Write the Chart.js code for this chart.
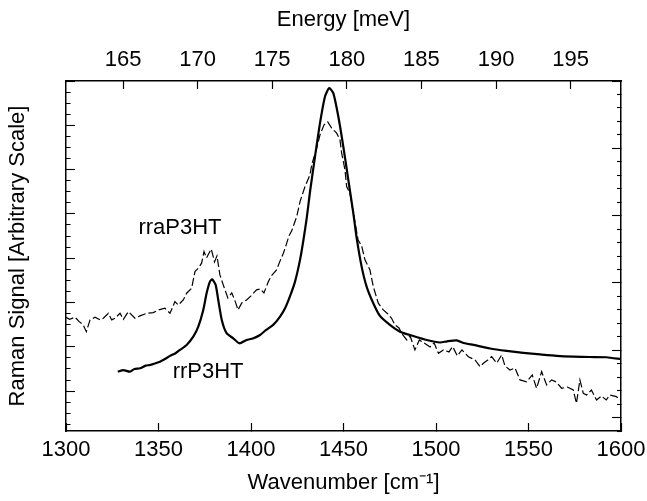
<!DOCTYPE html>
<html>
<head>
<meta charset="utf-8">
<script src="https://cdn.jsdelivr.net/npm/chart.js@4.4.1/dist/chart.umd.min.js"></script>
<style>
  html, body { margin: 0; padding: 0; background: #fff; }
  canvas { display: block; }
</style>
</head>
<body>
<canvas id="canvas" width="647" height="501"></canvas>
<script>
// regio-regular P3HT (solid line)
const wavenumber_rr = [1328, 1331, 1334.6, 1337, 1340, 1343, 1345.4, 1348, 1350.8, 1353, 1356.2, 1359, 1361.6, 1365.2, 1368.8, 1371.5, 1374.2, 1376, 1377.8, 1379, 1380.9, 1382.3, 1384.2, 1386.8, 1390.4, 1393.7, 1397.6, 1401, 1404.9, 1408, 1412, 1415.7, 1418.4, 1421, 1423.8, 1426.5, 1428.3, 1430.1, 1431.9, 1434.6, 1437.3, 1440, 1442.3, 1444.5, 1447.2, 1449.9, 1452.6, 1455.3, 1457.1, 1459.8, 1462.5, 1466.1, 1469.7, 1475.1, 1480.5, 1487.7, 1495, 1502.2, 1506, 1511.2, 1515, 1520.2, 1529.2, 1538.2, 1547.2, 1556.2, 1565.2, 1574.2, 1583.2, 1592.2, 1600];
const signal_rr = [1.76, 1.9, 1.76, 2.0, 2.06, 2.3, 2.36, 2.5, 2.66, 2.85, 3.18, 3.4, 3.72, 4.17, 4.92, 5.82, 7.33, 8.84, 9.89, 10.1, 9.59, 8.23, 6.43, 5.23, 4.77, 4.32, 4.62, 4.75, 5.07, 5.5, 5.98, 6.73, 7.48, 8.53, 9.89, 11.85, 13.6, 15.6, 18.0, 21.18, 24.2, 26.6, 27.36, 26.9, 24.79, 22.08, 19.07, 16.07, 13.83, 11.24, 9.44, 7.94, 6.79, 5.98, 5.37, 4.98, 4.62, 4.39, 4.5, 4.58, 4.35, 4.17, 3.85, 3.63, 3.45, 3.31, 3.18, 3.11, 3.08, 3.06, 2.88];

// regio-random P3HT (dashed line)
const wavenumber_rra = [1300, 1302, 1304.9, 1307, 1309.3, 1311, 1313, 1315.7, 1318.4, 1320.2, 1322.9, 1324.7, 1326.5, 1329.2, 1331, 1333.7, 1337.3, 1340, 1343.6, 1347.2, 1349.9, 1353.5, 1356.2, 1358.9, 1360.7, 1363.4, 1365.2, 1367.9, 1369.7, 1371.5, 1373.3, 1374.6, 1376, 1378.5, 1380.3, 1381.6, 1383.2, 1385, 1387.5, 1389.6, 1391.5, 1393, 1395, 1397.6, 1400, 1403, 1405, 1407, 1409.4, 1411, 1413.8, 1415.5, 1417.5, 1419, 1420.5, 1422, 1424.7, 1426.5, 1429.2, 1431.9, 1432.8, 1435.5, 1437.3, 1439.5, 1441.5, 1443.6, 1446.3, 1448.1, 1449, 1450.8, 1451.7, 1453.5, 1455.5, 1457.9, 1459.8, 1461.6, 1464.3, 1466.1, 1468.8, 1471.5, 1474, 1476, 1477.8, 1480, 1481.4, 1484.2, 1486, 1488.6, 1491, 1493.5, 1496.8, 1499, 1501.3, 1504, 1507, 1509, 1511.5, 1514, 1517.5, 1521.1, 1523.8, 1525.6, 1528, 1530.1, 1532.8, 1535.5, 1537.3, 1540, 1542.7, 1545.4, 1549, 1552, 1554.4, 1557.1, 1559.8, 1562.5, 1565, 1567.9, 1571, 1574.2, 1575.9, 1577.8, 1579.6, 1581.4, 1584, 1586.8, 1589.5, 1592, 1594, 1597.5, 1600];
const signal_rra = [6.67, 6.49, 6.67, 6.3, 5.98, 5.37, 6.43, 6.67, 6.43, 6.58, 7.03, 6.43, 6.58, 7.03, 6.49, 7.18, 6.58, 6.79, 7.03, 7.09, 7.33, 7.48, 7.03, 8.08, 7.78, 8.23, 8.84, 9.29, 10.79, 11.1, 11.55, 12.6, 12.03, 12.84, 11.67, 12.21, 10.49, 9.59, 8.41, 8.87, 8.08, 7.33, 7.96, 8.23, 8.6, 9.14, 9.23, 8.87, 9.89, 10.4, 10.94, 11.67, 12.45, 13.2, 14.0, 14.47, 15.76, 17.11, 18.47, 19.53, 20.43, 21.94, 23.14, 24.04, 24.31, 23.74, 23.29, 22.69, 21.49, 19.98, 18.47, 17.87, 15.91, 13.65, 13.11, 11.85, 10.94, 9.44, 7.94, 7.33, 6.97, 6.58, 5.98, 5.7, 5.23, 4.62, 4.98, 3.72, 4.62, 4.35, 3.99, 4.35, 3.42, 3.72, 3.54, 4.02, 3.18, 3.72, 3.11, 2.81, 2.21, 2.52, 2.81, 3.11, 2.52, 3.27, 2.27, 1.91, 2.09, 1.01, 0.85, 1.46, 0.26, 1.76, 0.56, 1.01, 0.83, 0.26, 0.37, 0.1, -1.1, 1.01, -0.19, -0.35, 0.1, -0.8, -0.44, -0.8, -0.35, -0.5, -0.8];

const wavenumberTicks = [1300, 1350, 1400, 1450, 1500, 1550, 1600];
const energyTicks = [165, 170, 175, 180, 185, 190, 195];
const MEV_PER_CM = 0.123984;

const curveLabels = [
  { text: "rraP3HT", x: 1361.6, y: 14.7 },
  { text: "rrP3HT", x: 1376.8, y: 1.73 },
];

const FONT = { family: "'Liberation Sans', Arial, sans-serif", size: 22 };

function toPoints(xs, ys) {
  return xs.map((x, i) => ({ x: x, y: ys[i] }));
}

const curveLabelPlugin = {
  id: "curveLabels",
  afterDatasetsDraw(chart) {
    const ctx = chart.ctx;
    const xs = chart.scales.x;
    const ys = chart.scales.y;
    ctx.save();
    ctx.font = FONT.size + "px " + FONT.family;
    ctx.fillStyle = "#000";
    ctx.textAlign = "center";
    ctx.textBaseline = "middle";
    curveLabels.forEach((l) => {
      ctx.fillText(l.text, xs.getPixelForValue(l.x), ys.getPixelForValue(l.y));
    });
    ctx.restore();
  },
};

// left axis: long tick every 4th, right axis: long tick every 5th
const leftMajor = (c) => c.tick && Math.round(c.tick.value) % 4 === 0;
const rightMajor = (c) => c.tick && Math.round(c.tick.value) % 5 === 0;

const noPad = (s) => {
  s.paddingLeft = 0;
  s.paddingRight = 0;
};

const chartContainer = document.getElementById("canvas").getContext("2d");
const ramanChart = new Chart(chartContainer, {
  type: "line",
  data: {
    datasets: [
      {
        label: "rrP3HT",
        data: toPoints(wavenumber_rr, signal_rr),
        borderColor: "#000",
        borderWidth: 2.2,
        pointRadius: 0,
        tension: 0.2,
        fill: false,
      },
      {
        label: "rraP3HT",
        data: toPoints(wavenumber_rra, signal_rra),
        borderColor: "#000",
        borderWidth: 1.2,
        borderDash: [8, 3],
        pointRadius: 0,
        tension: 0,
        fill: false,
      },
    ],
  },
  options: {
    responsive: false,
    animation: false,
    layout: { padding: 0 },
    plugins: {
      legend: { display: false },
      tooltip: { enabled: false },
    },
    scales: {
      x: {
        type: "linear",
        position: "bottom",
        min: 1300,
        max: 1600,
        afterBuildTicks: (s) => {
          s.ticks = wavenumberTicks.map((v) => ({ value: v }));
        },
        ticks: {
          font: FONT,
          color: "#000",
          padding: 14,
          maxRotation: 0,
          autoSkip: false,
          callback: (v) => String(v),
        },
        grid: { drawOnChartArea: false, tickLength: -8, tickColor: "#000", tickWidth: 1.2 },
        border: { color: "#000", width: 1.5 },
        title: {
          display: true,
          text: "Wavenumber [cm\u207B\u00B9]",
          font: FONT,
          color: "#000",
          padding: { top: 0, bottom: 5 },
        },
        afterFit: (s) => {
          s.height = 70;
          noPad(s);
        },
      },
      x2: {
        type: "linear",
        position: "top",
        min: 1300 * MEV_PER_CM,
        max: 1600 * MEV_PER_CM,
        afterBuildTicks: (s) => {
          s.ticks = energyTicks.map((v) => ({ value: v }));
        },
        ticks: {
          font: FONT,
          color: "#000",
          padding: 16,
          maxRotation: 0,
          autoSkip: false,
          callback: (v) => String(v),
        },
        grid: { drawOnChartArea: false, tickLength: -8, tickColor: "#000", tickWidth: 1.2 },
        border: { color: "#000", width: 1.5 },
        title: {
          display: true,
          text: "Energy [meV]",
          font: FONT,
          color: "#000",
          padding: { top: 7, bottom: 0 },
        },
        afterFit: (s) => {
          s.height = 81;
          noPad(s);
        },
      },
      y: {
        type: "linear",
        position: "left",
        min: -3.6,
        max: 28,
        ticks: { display: false, stepSize: 1, includeBounds: false },
        grid: {
          drawOnChartArea: false,
          tickLength: -9,
          tickColor: "#000",
          tickWidth: 1.1,
          tickBorderDash: (c) => (leftMajor(c) ? [] : [0, 4.5, 4.5, 30]),
        },
        border: { color: "#000", width: 1.5 },
        title: {
          display: true,
          text: "Raman Signal [Arbitrary Scale]",
          font: FONT,
          color: "#000",
          padding: { top: 5, bottom: 0 },
        },
        afterFit: (s) => {
          s.width = 66;
        },
      },
      yR: {
        type: "linear",
        position: "right",
        reverse: true,
        min: 0,
        max: 26,
        ticks: { display: false, stepSize: 1, includeBounds: false },
        grid: {
          drawOnChartArea: false,
          tickLength: -9,
          tickColor: "#000",
          tickWidth: 1.1,
          tickBorderDash: (c) => (rightMajor(c) ? [] : [4.5, 30]),
        },
        border: { color: "#000", width: 1.5 },
        afterFit: (s) => {
          s.width = 26;
        },
      },
    },
  },
  plugins: [curveLabelPlugin],
});
</script>
</body>
</html>
